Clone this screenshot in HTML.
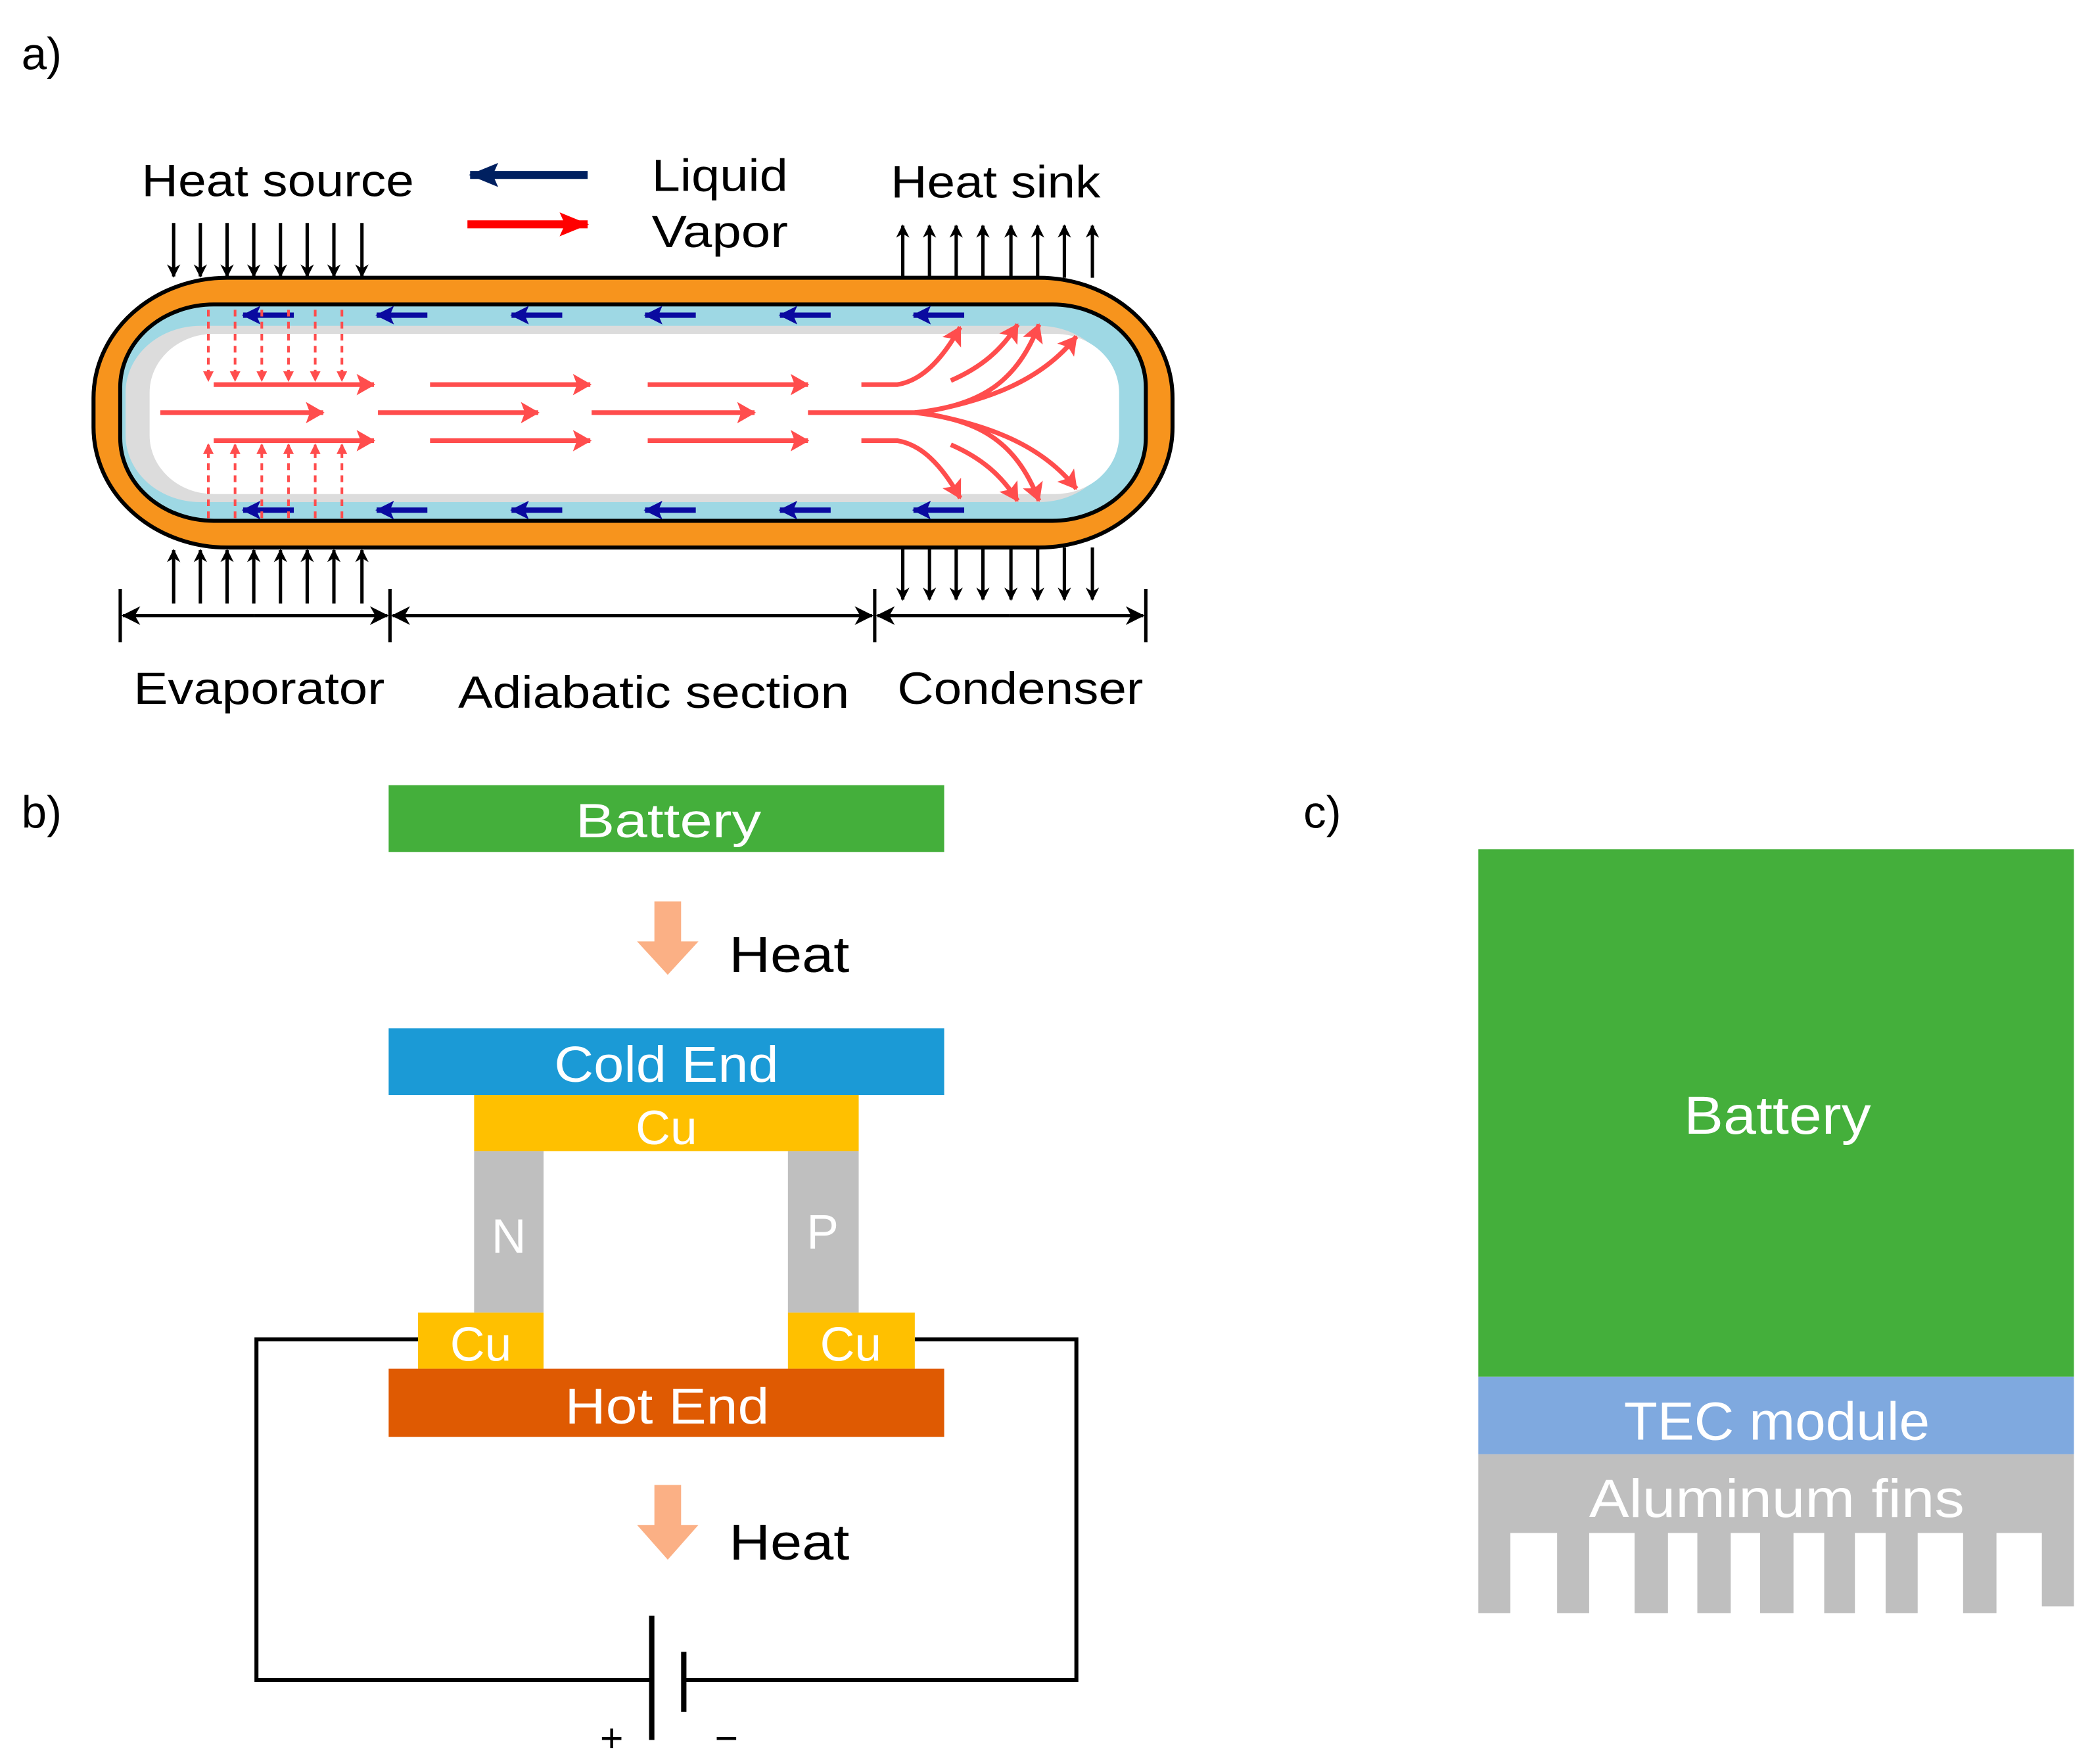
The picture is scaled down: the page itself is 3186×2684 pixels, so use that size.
<!DOCTYPE html>
<html><head><meta charset="utf-8"><style>
html,body{margin:0;padding:0;background:#fff;}
svg{display:block}
text{font-family:"Liberation Sans",sans-serif;}
</style></head><body>
<svg width="3186" height="2684" viewBox="0 0 1568 1321" xmlns="http://www.w3.org/2000/svg">
<defs>
<marker id="bk" markerWidth="10" markerHeight="10" refX="9" refY="5" orient="auto" markerUnits="userSpaceOnUse"><path d="M0,0 L10,5 L0,10 L3,5 Z" fill="#000"/></marker>
<marker id="bk2" markerWidth="14" markerHeight="14" refX="13" refY="7" orient="auto" markerUnits="userSpaceOnUse"><path d="M0,0 L14,7 L0,14 L4,7 Z" fill="#000"/></marker>
<marker id="rd" markerWidth="14" markerHeight="16" refX="13" refY="8" orient="auto" markerUnits="userSpaceOnUse"><path d="M0,0 L14,8 L0,16 L3,8 Z" fill="#FF4D4D"/></marker>
<marker id="rds" markerWidth="8" markerHeight="8" refX="7" refY="4" orient="auto" markerUnits="userSpaceOnUse"><path d="M0,0 L8,4 L0,8 Z" fill="#FF4D4D"/></marker>
<marker id="nv" markerWidth="14" markerHeight="14" refX="13" refY="7" orient="auto" markerUnits="userSpaceOnUse"><path d="M0,0 L14,7 L0,14 L3,7 Z" fill="#0A0AA0"/></marker>
<marker id="nv2" markerWidth="22" markerHeight="18" refX="21" refY="9" orient="auto" markerUnits="userSpaceOnUse"><path d="M0,0 L22,9 L0,18 L4,9 Z" fill="#002060"/></marker>
<marker id="rd2" markerWidth="22" markerHeight="18" refX="21" refY="9" orient="auto" markerUnits="userSpaceOnUse"><path d="M0,0 L22,9 L0,18 L4,9 Z" fill="#FF0000"/></marker>
</defs>

<!-- a) -->
<text x="16" y="52" font-size="34">a)</text>
<text x="106" y="147" font-size="34" textLength="204" lengthAdjust="spacingAndGlyphs">Heat source</text>
<line x1="440" y1="131" x2="352" y2="131" stroke="#002060" stroke-width="6" marker-end="url(#nv2)"/>
<line x1="350" y1="168" x2="440" y2="168" stroke="#FF0000" stroke-width="6" marker-end="url(#rd2)"/>
<text x="488" y="143" font-size="34" textLength="102" lengthAdjust="spacingAndGlyphs">Liquid</text>
<text x="488" y="185" font-size="34" textLength="102" lengthAdjust="spacingAndGlyphs">Vapor</text>
<text x="667" y="148" font-size="34" textLength="157" lengthAdjust="spacingAndGlyphs">Heat sink</text>

<g stroke="#000" stroke-width="2.5">
<line x1="130" y1="167" x2="130" y2="207" marker-end="url(#bk)"/><line x1="150" y1="167" x2="150" y2="207" marker-end="url(#bk)"/><line x1="170" y1="167" x2="170" y2="207" marker-end="url(#bk)"/><line x1="190" y1="167" x2="190" y2="207" marker-end="url(#bk)"/><line x1="210" y1="167" x2="210" y2="207" marker-end="url(#bk)"/><line x1="230" y1="167" x2="230" y2="207" marker-end="url(#bk)"/><line x1="250" y1="167" x2="250" y2="207" marker-end="url(#bk)"/><line x1="271" y1="167" x2="271" y2="207" marker-end="url(#bk)"/>
<line x1="676" y1="208" x2="676" y2="169" marker-end="url(#bk)"/><line x1="696" y1="208" x2="696" y2="169" marker-end="url(#bk)"/><line x1="716" y1="208" x2="716" y2="169" marker-end="url(#bk)"/><line x1="736" y1="208" x2="736" y2="169" marker-end="url(#bk)"/><line x1="757" y1="208" x2="757" y2="169" marker-end="url(#bk)"/><line x1="777" y1="208" x2="777" y2="169" marker-end="url(#bk)"/><line x1="797" y1="208" x2="797" y2="169" marker-end="url(#bk)"/><line x1="818" y1="208" x2="818" y2="169" marker-end="url(#bk)"/>
<line x1="130" y1="452" x2="130" y2="412" marker-end="url(#bk)"/><line x1="150" y1="452" x2="150" y2="412" marker-end="url(#bk)"/><line x1="170" y1="452" x2="170" y2="412" marker-end="url(#bk)"/><line x1="190" y1="452" x2="190" y2="412" marker-end="url(#bk)"/><line x1="210" y1="452" x2="210" y2="412" marker-end="url(#bk)"/><line x1="230" y1="452" x2="230" y2="412" marker-end="url(#bk)"/><line x1="250" y1="452" x2="250" y2="412" marker-end="url(#bk)"/><line x1="271" y1="452" x2="271" y2="412" marker-end="url(#bk)"/>
<line x1="676" y1="410" x2="676" y2="449" marker-end="url(#bk)"/><line x1="696" y1="410" x2="696" y2="449" marker-end="url(#bk)"/><line x1="716" y1="410" x2="716" y2="449" marker-end="url(#bk)"/><line x1="736" y1="410" x2="736" y2="449" marker-end="url(#bk)"/><line x1="757" y1="410" x2="757" y2="449" marker-end="url(#bk)"/><line x1="777" y1="410" x2="777" y2="449" marker-end="url(#bk)"/><line x1="797" y1="410" x2="797" y2="449" marker-end="url(#bk)"/><line x1="818" y1="410" x2="818" y2="449" marker-end="url(#bk)"/>
</g>

<!-- pipe -->
<rect x="70" y="208" width="808" height="202" rx="100" ry="90" fill="#F7941D" stroke="#000" stroke-width="3"/>
<rect x="90" y="228" width="768" height="162" rx="70" ry="62" fill="#9ED8E4" stroke="#000" stroke-width="3"/>
<rect x="94" y="244" width="740" height="132" rx="56" ry="50" fill="#DCDCDC"/>
<rect x="112" y="250" width="726" height="120" rx="48" ry="44" fill="#fff"/>

<g stroke="#0A0AA0" stroke-width="4">
<line x1="220" y1="236" x2="182" y2="236" marker-end="url(#nv)"/><line x1="320" y1="236" x2="282" y2="236" marker-end="url(#nv)"/><line x1="421" y1="236" x2="383" y2="236" marker-end="url(#nv)"/><line x1="521" y1="236" x2="483" y2="236" marker-end="url(#nv)"/><line x1="622" y1="236" x2="584" y2="236" marker-end="url(#nv)"/><line x1="722" y1="236" x2="684" y2="236" marker-end="url(#nv)"/>
<line x1="220" y1="382" x2="182" y2="382" marker-end="url(#nv)"/><line x1="320" y1="382" x2="282" y2="382" marker-end="url(#nv)"/><line x1="421" y1="382" x2="383" y2="382" marker-end="url(#nv)"/><line x1="521" y1="382" x2="483" y2="382" marker-end="url(#nv)"/><line x1="622" y1="382" x2="584" y2="382" marker-end="url(#nv)"/><line x1="722" y1="382" x2="684" y2="382" marker-end="url(#nv)"/>
</g>

<g stroke="#FF4D4D" stroke-width="2" stroke-dasharray="5,4" fill="none">
<line x1="156" y1="232" x2="156" y2="285" marker-end="url(#rds)"/><line x1="176" y1="232" x2="176" y2="285" marker-end="url(#rds)"/><line x1="196" y1="232" x2="196" y2="285" marker-end="url(#rds)"/><line x1="216" y1="232" x2="216" y2="285" marker-end="url(#rds)"/><line x1="236" y1="232" x2="236" y2="285" marker-end="url(#rds)"/><line x1="256" y1="232" x2="256" y2="285" marker-end="url(#rds)"/>
<line x1="156" y1="388" x2="156" y2="333" marker-end="url(#rds)"/><line x1="176" y1="388" x2="176" y2="333" marker-end="url(#rds)"/><line x1="196" y1="388" x2="196" y2="333" marker-end="url(#rds)"/><line x1="216" y1="388" x2="216" y2="333" marker-end="url(#rds)"/><line x1="236" y1="388" x2="236" y2="333" marker-end="url(#rds)"/><line x1="256" y1="388" x2="256" y2="333" marker-end="url(#rds)"/>
</g>
<g stroke="#FF4D4D" stroke-width="3.5" fill="none">
<line x1="160" y1="288" x2="280" y2="288" marker-end="url(#rd)"/><line x1="120" y1="309" x2="242" y2="309" marker-end="url(#rd)"/><line x1="160" y1="330" x2="280" y2="330" marker-end="url(#rd)"/>
<line x1="322" y1="288" x2="442" y2="288" marker-end="url(#rd)"/><line x1="283" y1="309" x2="403" y2="309" marker-end="url(#rd)"/><line x1="322" y1="330" x2="442" y2="330" marker-end="url(#rd)"/>
<line x1="485" y1="288" x2="605" y2="288" marker-end="url(#rd)"/><line x1="443" y1="309" x2="565" y2="309" marker-end="url(#rd)"/><line x1="485" y1="330" x2="605" y2="330" marker-end="url(#rd)"/>
<line x1="605" y1="309" x2="690" y2="309"/>
<path d="M645,288 L672,288 C690,285 705,270 719,245" marker-end="url(#rd)"/>
<path d="M712,285 C735,275 750,262 762,243" marker-end="url(#rd)"/>
<path d="M685,309 C730,304 760,290 778,243" marker-end="url(#rd)"/>
<path d="M690,309 C740,300 780,285 806,252" marker-end="url(#rd)"/>
<path d="M645,330 L672,330 C690,333 705,348 719,373" marker-end="url(#rd)"/>
<path d="M712,333 C735,343 750,356 762,375" marker-end="url(#rd)"/>
<path d="M685,309 C730,314 760,328 778,375" marker-end="url(#rd)"/>
<path d="M690,309 C740,318 780,333 806,366" marker-end="url(#rd)"/>
</g>

<!-- dimension line -->
<g stroke="#000" stroke-width="2.5">
<line x1="90" y1="441" x2="90" y2="481"/><line x1="292" y1="441" x2="292" y2="481"/><line x1="655" y1="441" x2="655" y2="481"/><line x1="858" y1="441" x2="858" y2="481"/>
<line x1="190" y1="461" x2="92" y2="461" marker-end="url(#bk2)"/><line x1="190" y1="461" x2="290" y2="461" marker-end="url(#bk2)"/>
<line x1="470" y1="461" x2="294" y2="461" marker-end="url(#bk2)"/><line x1="470" y1="461" x2="653" y2="461" marker-end="url(#bk2)"/>
<line x1="756" y1="461" x2="657" y2="461" marker-end="url(#bk2)"/><line x1="756" y1="461" x2="856" y2="461" marker-end="url(#bk2)"/>
</g>
<text x="100" y="527" font-size="34" textLength="188" lengthAdjust="spacingAndGlyphs">Evaporator</text>
<text x="343" y="530" font-size="34" textLength="293" lengthAdjust="spacingAndGlyphs">Adiabatic section</text>
<text x="672" y="527" font-size="34" textLength="184" lengthAdjust="spacingAndGlyphs">Condenser</text>

<!-- b) -->
<text x="16" y="620" font-size="34">b)</text>
<rect x="291" y="588" width="416" height="50" fill="#44AF3B"/>
<text x="431" y="627" font-size="36" fill="#fff" textLength="139" lengthAdjust="spacingAndGlyphs">Battery</text>
<path d="M490,675 H510 V705 H523 L500,730 L477,705 H490 Z" fill="#FBB085"/>
<text x="546" y="728" font-size="38" textLength="90" lengthAdjust="spacingAndGlyphs">Heat</text>
<rect x="291" y="770" width="416" height="50" fill="#1B9AD6"/>
<text x="415" y="810" font-size="38" fill="#fff" textLength="168" lengthAdjust="spacingAndGlyphs">Cold End</text>
<rect x="355" y="820" width="288" height="42" fill="#FFC000"/>
<text x="499" y="857" font-size="36" fill="#fff" text-anchor="middle">Cu</text>
<rect x="355" y="862" width="52" height="121" fill="#BFBFBF"/>
<rect x="590" y="862" width="53" height="121" fill="#BFBFBF"/>
<text x="381" y="938" font-size="36" fill="#fff" text-anchor="middle">N</text>
<text x="616" y="935" font-size="36" fill="#fff" text-anchor="middle">P</text>
<polyline points="313,1003 192,1003 192,1258 488,1258" fill="none" stroke="#000" stroke-width="3"/>
<polyline points="685,1003 806,1003 806,1258 512,1258" fill="none" stroke="#000" stroke-width="3"/>
<line x1="488" y1="1210" x2="488" y2="1303" stroke="#000" stroke-width="4"/>
<line x1="512" y1="1237" x2="512" y2="1282" stroke="#000" stroke-width="4"/>
<rect x="313" y="983" width="94" height="42" fill="#FFC000"/>
<rect x="590" y="983" width="95" height="42" fill="#FFC000"/>
<text x="360" y="1019" font-size="36" fill="#fff" text-anchor="middle">Cu</text>
<text x="637" y="1019" font-size="36" fill="#fff" text-anchor="middle">Cu</text>
<rect x="291" y="1025" width="416" height="51" fill="#DF5A02"/>
<text x="423" y="1066" font-size="38" fill="#fff" textLength="153" lengthAdjust="spacingAndGlyphs">Hot End</text>
<path d="M490,1112 H510 V1142 H523 L500,1168 L477,1142 H490 Z" fill="#FBB085"/>
<text x="546" y="1168" font-size="38" textLength="90" lengthAdjust="spacingAndGlyphs">Heat</text>
<text x="458" y="1312" font-size="30" text-anchor="middle">+</text>
<text x="544" y="1312" font-size="30" text-anchor="middle">−</text>

<!-- c) -->
<text x="976" y="620" font-size="34">c)</text>
<rect x="1107" y="636" width="446" height="395" fill="#44AF3B"/>
<text x="1261" y="849" font-size="40" fill="#fff" textLength="140" lengthAdjust="spacingAndGlyphs">Battery</text>
<rect x="1107" y="1031" width="446" height="58" fill="#7FA9DF"/>
<text x="1216" y="1078" font-size="40" fill="#fff" textLength="229" lengthAdjust="spacingAndGlyphs">TEC module</text>
<path d="M1107,1089 H1553 V1203 H1529 V1148 H1495 V1208 H1470 V1148 H1436 V1208 H1412 V1148 H1389 V1208 H1366 V1148 H1343 V1208 H1318 V1148 H1296 V1208 H1271 V1148 H1249 V1208 H1224 V1148 H1190 V1208 H1166 V1148 H1131 V1208 H1107 Z" fill="#BFBFBF"/>
<text x="1190" y="1136" font-size="40" fill="#fff" textLength="281" lengthAdjust="spacingAndGlyphs">Aluminum fins</text>
</svg>
</body></html>
